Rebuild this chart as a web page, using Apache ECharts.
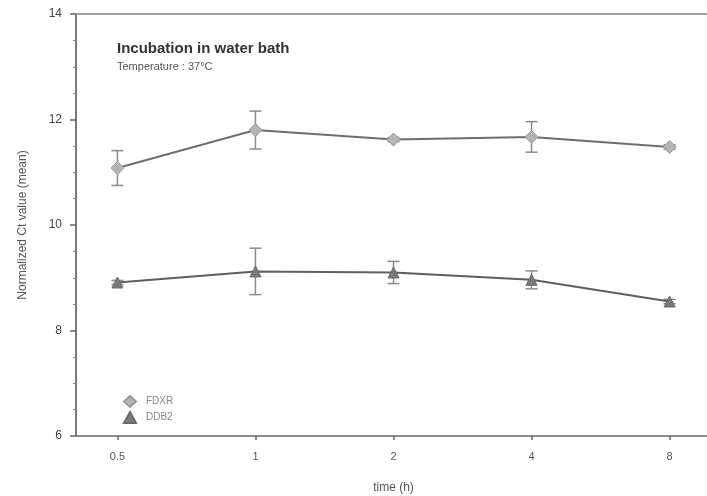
<!DOCTYPE html>
<html>
<head>
    <meta charset="UTF-8">
    <title>Incubation in water bath</title>
    <style type="text/css">
        body{
            margin:0;
            padding:0;
            background-color:white;
        }
        #main{
            width:707px;
            height:496px;
        }
    </style>
</head>
<body>
<div id="main"></div>
<script type="text/javascript" src="https://cdn.jsdelivr.net/npm/echarts@6/dist/echarts.min.js"></script>
<script type="text/javascript">
    // data
    var timeLabels = ['0.5', '1', '2', '4', '8'];
    var fdxrMean = [11.08, 11.80, 11.62, 11.67, 11.48];
    var fdxrErr = [0.33, 0.36, 0.04, 0.29, 0.04];
    var ddb2Mean = [8.91, 9.12, 9.10, 8.96, 8.55];
    var ddb2Err = [0.04, 0.44, 0.21, 0.17, 0.04];
    var yTicks = [6, 8, 10, 12, 14];

    var font = '"Liberation Sans", Arial, sans-serif';
    var idx = timeLabels.map(function(t, i) { return i; });

    function points(means) {
        return means.map(function(v, i) { return [i, v]; });
    }
    function errData(means, errs) {
        return means.map(function(v, i) { return [i, v - errs[i], v + errs[i]]; });
    }
    function renderErr(params, api) {
        var x = api.value(0);
        var lo = api.coord([x, api.value(1)]);
        var hi = api.coord([x, api.value(2)]);
        var half = 6;
        var style = { stroke: '#8a8a8a', lineWidth: 1.5 };
        return {
            type: 'group',
            children: [
                { type: 'line', shape: { x1: lo[0], y1: lo[1], x2: hi[0], y2: hi[1] }, style: style },
                { type: 'line', shape: { x1: lo[0] - half, y1: lo[1], x2: lo[0] + half, y2: lo[1] }, style: style },
                { type: 'line', shape: { x1: hi[0] - half, y1: hi[1], x2: hi[0] + half, y2: hi[1] }, style: style }
            ]
        };
    }

    var myChart = echarts.init(document.getElementById('main'));
    var option = {
        animation: false,
        backgroundColor: '#fff',
        textStyle: { fontFamily: font },
        title: {
            text: 'Incubation in water bath',
            subtext: 'Temperature : 37°C',
            left: 112,
            top: 36,
            itemGap: 5,
            textStyle: { fontFamily: font, fontSize: 15, fontWeight: 'bold', color: '#333' },
            subtextStyle: { fontFamily: font, fontSize: 11, color: '#555' }
        },
        legend: {
            orient: 'vertical',
            left: 118,
            top: 390,
            itemWidth: 12,
            itemHeight: 11,
            itemGap: 3,
            textStyle: { fontFamily: font, fontSize: 10, color: '#888', padding: [0, 0, 0, 5] },
            data: [
                { name: 'FDXR', icon: 'diamond' },
                { name: 'DDB2', icon: 'triangle' }
            ]
        },
        grid: { left: 76, top: 14, width: 635, height: 422, outerBoundsMode: 'none' },
        xAxis: [{
            type: 'value',
            min: -0.3,
            max: 4.3,
            name: 'time (h)',
            nameLocation: 'middle',
            nameGap: 46,
            nameTextStyle: { fontFamily: font, fontSize: 12, color: '#555' },
            axisLine: { onZero: false, lineStyle: { color: '#8c8c8c', width: 2 } },
            axisTick: { show: true, length: 4, customValues: idx, lineStyle: { color: '#666', width: 1.5 } },
            axisLabel: {
                customValues: idx,
                margin: 15,
                fontSize: 11,
                color: '#555',
                formatter: function(v) { return timeLabels[Math.round(v)]; }
            },
            splitLine: { show: false }
        }, {
            type: 'value',
            position: 'top',
            min: -0.3,
            max: 4.3,
            axisLine: { show: true, onZero: false, lineStyle: { color: '#a0a0a0', width: 2 } },
            axisTick: { show: false },
            axisLabel: { show: false },
            splitLine: { show: false }
        }],
        yAxis: {
            type: 'value',
            min: yTicks[0],
            max: yTicks[yTicks.length - 1],
            interval: 2,
            name: 'Normalized Ct value (mean)',
            nameLocation: 'middle',
            nameGap: 47,
            nameTextStyle: { fontFamily: font, fontSize: 12, color: '#555' },
            axisLine: { show: true, onZero: false, lineStyle: { color: '#777', width: 2 } },
            axisTick: { show: true, length: 6, lineStyle: { color: '#666', width: 1.5 } },
            minorTick: { show: true, splitNumber: 4, length: 3, lineStyle: { color: '#888' } },
            axisLabel: { margin: 14, fontSize: 12, color: '#444' },
            splitLine: { show: false }
        },
        series: [
            {
                type: 'custom',
                name: 'FDXR err',
                renderItem: renderErr,
                data: errData(fdxrMean, fdxrErr),
                z: 1,
                silent: true
            },
            {
                type: 'custom',
                name: 'DDB2 err',
                renderItem: renderErr,
                data: errData(ddb2Mean, ddb2Err),
                z: 1,
                silent: true
            },
            {
                type: 'line',
                name: 'FDXR',
                data: points(fdxrMean),
                symbol: 'diamond',
                symbolSize: 13,
                showAllSymbol: true,
                lineStyle: { color: '#6e6e6e', width: 2 },
                itemStyle: { color: '#b4b4b4', borderColor: '#9a9a9a', borderWidth: 1 },
                z: 3
            },
            {
                type: 'line',
                name: 'DDB2',
                data: points(ddb2Mean),
                symbol: 'triangle',
                symbolSize: 11,
                showAllSymbol: true,
                lineStyle: { color: '#5e5e5e', width: 2 },
                itemStyle: { color: '#7a7a7a', borderColor: '#6a6a6a', borderWidth: 1 },
                z: 3
            }
        ]
    };
    myChart.setOption(option);
</script>
</body>
</html>
